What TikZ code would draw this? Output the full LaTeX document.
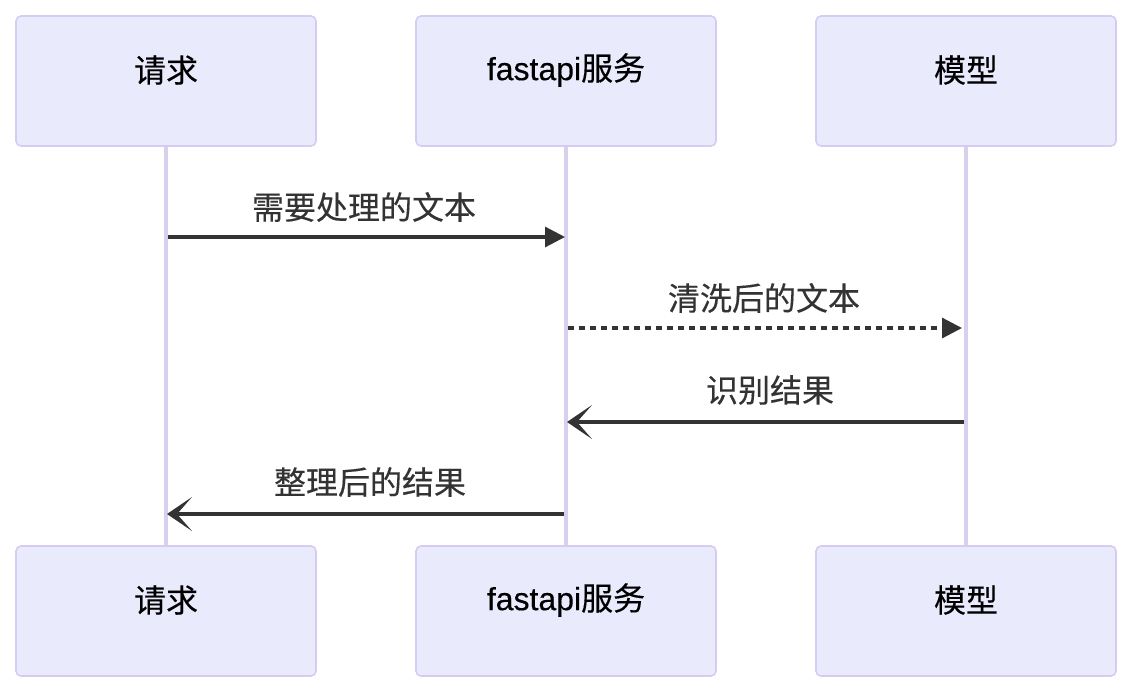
\documentclass[tikz,border=0pt]{standalone}
\usepackage{fontspec}
\setmainfont{Noto Sans CJK SC}[FakeBold=0.3]
\newfontfamily\latinfont{Liberation Sans}[FakeBold=0.3]
\usetikzlibrary{arrows.meta}
\definecolor{actfill}{HTML}{EAEAFD}
\definecolor{actline}{HTML}{D6CCF1}
\definecolor{lifeline}{HTML}{D9D0F0}
\definecolor{msg}{HTML}{333333}
\tikzset{
  actor/.style={draw=actline, line width=1.6pt, fill=actfill, rounded corners=5pt,
    minimum width=300pt, minimum height=130pt, inner sep=0pt},
  actortext/.style={text=black, inner sep=0pt, font=\fontsize{32}{36}\selectfont},
  life/.style={draw=lifeline, line width=3.2pt},
  msgline/.style={draw=msg, line width=3.2pt},
  msglabel/.style={text=msg, font=\fontsize{32}{36}\selectfont, inner sep=0pt},
  solidtip/.style={-{Triangle[length=20pt,width=20pt]}},
  barbtip/.style={-{Stealth[length=25pt,width=34pt,inset=15pt]}},
}
\begin{document}
\begin{tikzpicture}[x=1pt,y=-1pt]
\useasboundingbox (0,0) rectangle (1132,694);
% lifelines
\coordinate (l1t) at (166,146); \coordinate (l1b) at (166,546);
\coordinate (l2t) at (566,146); \coordinate (l2b) at (566,546);
\coordinate (l3t) at (966,146); \coordinate (l3b) at (966,546);
\draw[life] (l1t) -- (l1b);
\draw[life] (l2t) -- (l2b);
\draw[life] (l3t) -- (l3b);
% actors
\node[actor] (a1) at (166,81) {};
\node[actor] (a2) at (566,81) {};
\node[actor] (a3) at (966,81) {};
\node[actor] (b1) at (166,611) {};
\node[actor] (b2) at (566,611) {};
\node[actor] (b3) at (966,611) {};
\node[actortext] (a1t) at (166,70) {请求};
\node[actortext] (a2t) at (566,70) {{\latinfont fastapi}服务};
\node[actortext] (a3t) at (966,70) {模型};
\node[actortext] (b1t) at (166,600) {请求};
\node[actortext] (b2t) at (566,600) {{\latinfont fastapi}服务};
\node[actortext] (b3t) at (966,600) {模型};
% message endpoints
\coordinate (m1s) at (168,237); \coordinate (m1e) at (565,237);
\coordinate (m2s) at (568,328); \coordinate (m2e) at (962,328);
\coordinate (m3s) at (964,422); \coordinate (m3e) at (567,422);
\coordinate (m4s) at (564,514); \coordinate (m4e) at (167,514);
\draw[msgline,solidtip] (m1s) -- (m1e);
\draw[msgline,solidtip,dash pattern=on 6pt off 5pt] (m2s) -- (m2e);
\draw[msgline,barbtip] (m3s) -- (m3e);
\draw[msgline,barbtip] (m4s) -- (m4e);
% labels
\node[msglabel] (t1) at (364,207) {需要处理的文本};
\node[msglabel] (t2) at (764,298) {清洗后的文本};
\node[msglabel] (t3) at (770,390) {识别结果};
\node[msglabel] (t4) at (370,482) {整理后的结果};
\end{tikzpicture}
\end{document}
